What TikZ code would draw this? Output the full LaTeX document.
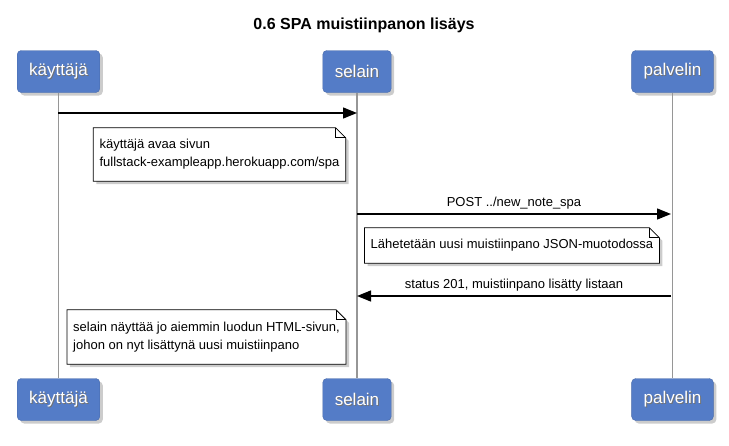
\documentclass[tikz,border=0pt]{standalone}
\usepackage{fontspec}
\setmainfont{Liberation Sans}
\usetikzlibrary{arrows.meta}
\usetikzlibrary{shadows}
\usetikzlibrary{backgrounds}
\usetikzlibrary{positioning}

\definecolor{actorblue}{RGB}{84,124,199}
\definecolor{lifegray}{RGB}{150,150,150}

\newcommand{\notefold}[1]{%
  \begin{pgfonlayer}{background}
    \draw[notepaper] (#1.north west) -- ([xshift=-10pt]#1.north east) -- ([yshift=-10pt]#1.north east) -- (#1.south east) -- (#1.south west) -- cycle;
  \end{pgfonlayer}
  \draw[line width=0.8pt] ([xshift=-10pt]#1.north east) -- ([xshift=-10pt,yshift=-10pt]#1.north east) -- ([yshift=-10pt]#1.north east);
}
\newcommand{\actortext}[1]{\makebox[0pt][l]{\hspace{1pt}\raisebox{-1pt}{\textcolor{black!55}{#1}}}#1}

\begin{document}
\begin{tikzpicture}[x=1pt, y=-1pt,
    actor/.style={rounded corners=4pt, fill=actorblue, draw=actorblue!85!black, text=white, font=\fontsize{17}{20}\selectfont, minimum height=42pt, inner xsep=12pt, drop shadow={shadow xshift=3pt, shadow yshift=-3pt, opacity=0.4}},
    notepaper/.style={fill=white, draw=black, line width=0.8pt, drop shadow={shadow xshift=3pt, shadow yshift=-3pt, opacity=0.4}},
    note/.style={align=left, font=\fontsize{13}{18}\selectfont, inner xsep=6pt},
    msg/.style={-{Triangle[length=14pt, width=11pt]}, line width=1.3pt},
    msgtext/.style={font=\fontsize{13}{16}\selectfont, above=1pt},
    life/.style={draw=lifegray, line width=1.2pt}]
        \useasboundingbox (0,0) rectangle (729,445);

        \node[font=\bfseries\fontsize{16}{19}\selectfont] (title) at (364,25) {0.6 SPA muistiinpanon lisäys};

        \node[actor] (kt) at (58.5,71.5) {\actortext{käyttäjä}};
        \node[actor] (se) at (357,71.5) {\actortext{selain}};
        \node[actor] (pa) at (672.5,71.5) {\actortext{palvelin}};

        \node[actor] (kt2) at (58.5,399.5) {\actortext{käyttäjä}};
        \node[actor] (se2) at (357,399.5) {\actortext{selain}};
        \node[actor] (pa2) at (672.5,399.5) {\actortext{palvelin}};

        \draw[life] (kt) -- (kt2);
        \draw[life] (se) -- (se2);
        \draw[life] (pa) -- (pa2);

        \coordinate (k1) at (58,113);
        \coordinate (s1) at (357,113);
        \coordinate (s2) at (357,214);
        \coordinate (p2) at (671,214);
        \coordinate (p3) at (671,296);
        \coordinate (s3) at (357,296);

        \draw[msg] (k1) -- (s1);

        \node[note, minimum width=251pt, minimum height=53pt] (n1) at (219.5,154.5) {käyttäjä avaa sivun\\fullstack-exampleapp.herokuapp.com/spa};
        \notefold{n1}

        \draw[msg] (s2) -- (p2) node[midway, msgtext] {POST ../new\_note\_spa};

        \node[note, minimum width=292pt, minimum height=35pt] (n2) at (512,245.5) {Lähetetään uusi muistiinpano JSON-muotodossa};
        \notefold{n2}

        \draw[msg] (p3) -- (s3) node[midway, msgtext] {status 201, muistiinpano lisätty listaan};

        \node[note, minimum width=277pt, minimum height=54pt] (n3) at (206.5,337) {selain näyttää jo aiemmin luodun HTML-sivun,\\johon on nyt lisättynä uusi muistiinpano};
        \notefold{n3}
      \end{tikzpicture}
\end{document}
